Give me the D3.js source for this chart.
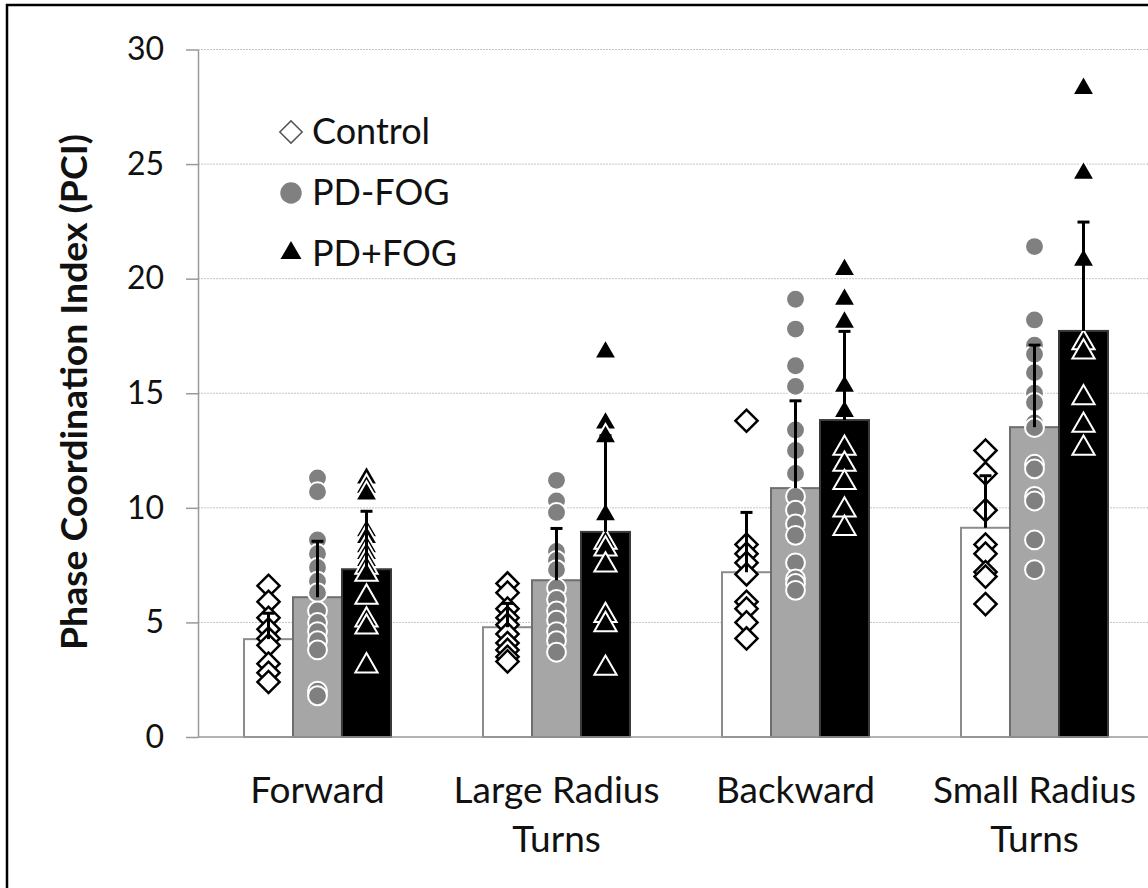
<!DOCTYPE html>
<html>
<head>
<meta charset="utf-8">
<script src="https://cdn.jsdelivr.net/npm/d3@7"></script>
<style>
  body { margin: 0; background: #fff; }
  svg { display: block; font-family: Lato, "Open Sans", sans-serif; }
</style>
</head>
<body>
<div id="chart"></div>
<script>
// data
const categories = ["Forward", "Large Radius Turns", "Backward", "Small Radius Turns"];
const categoryLines = [["Forward"], ["Large Radius", "Turns"], ["Backward"], ["Small Radius", "Turns"]];
const groups = ["Control", "PD-FOG", "PD+FOG"];
const yTicks = [0, 5, 10, 15, 20, 25, 30];

const controlMean = [4.27, 4.79, 7.19, 9.13];
const pdNoFogMean = [6.10, 6.84, 10.86, 13.52];
const pdFogMean = [7.32, 8.95, 13.83, 17.72];

const controlSD = [1.13, 1.04, 2.61, 2.27];
const pdNoFogSD = [2.44, 2.26, 3.81, 3.58];
const pdFogSD = [2.53, 4.20, 3.87, 4.75];

const controlPoints = [
    [6.6, 5.9, 5.2, 4.7, 4.3, 4.0, 3.2, 2.8, 2.4],
    [6.7, 6.3, 5.6, 5.2, 4.9, 4.5, 4.1, 3.8, 3.5, 3.3],
    [13.8, 8.4, 8.0, 7.6, 7.1, 5.9, 5.6, 5.0, 4.3],
    [12.5, 11.5, 9.9, 8.4, 8.0, 7.2, 7.0, 5.8]
];
const pdNoFogPoints = [
    [11.3, 10.7, 8.6, 8.0, 7.4, 6.8, 6.3, 5.5, 5.0, 4.6, 4.2, 3.8, 2.0, 1.8],
    [11.2, 10.3, 9.8, 8.1, 7.7, 7.3, 6.5, 6.0, 5.5, 5.1, 4.6, 4.2, 3.7],
    [19.1, 17.8, 16.2, 15.3, 13.4, 12.5, 11.5, 10.5, 9.9, 9.3, 8.8, 7.6, 6.9, 6.7, 6.4],
    [21.4, 18.2, 17.1, 16.7, 15.9, 15.0, 14.6, 13.7, 13.5, 11.9, 11.7, 10.5, 10.3, 8.6, 7.3]
];
const pdFogPoints = [
    [11.3, 10.9, 10.6, 9.0, 8.7, 8.3, 8.0, 7.7, 7.4, 7.1, 6.1, 5.1, 4.8, 3.1],
    [16.8, 13.7, 13.1, 9.7, 8.5, 8.2, 7.5, 5.3, 4.9, 3.0],
    [20.4, 19.1, 18.1, 15.3, 14.2, 12.6, 11.9, 11.1, 9.9, 9.1],
    [28.3, 24.6, 20.8, 17.2, 16.8, 14.8, 13.6, 12.6]
];

const width = 1148;
const height = 888;
const margin = { top: 49.5, left: 198, bottom: 151 };

const svg = d3.select("#chart").append("svg")
    .attr("width", width)
    .attr("height", height);

const x0 = d3.scaleBand().domain(categories).range([margin.left, margin.left + 4 * 239]);
const bw = x0.bandwidth();
const x1 = d3.scaleBand().domain(groups).range([bw * 0.1925, bw * 0.8075]);
const y = d3.scaleLinear().domain([0, 30]).range([height - margin.bottom, margin.top]);

const series = [
    { key: "Control", mean: controlMean, sd: controlSD, pts: controlPoints, fill: "#ffffff", stroke: "#8c8c8c" },
    { key: "PD-FOG", mean: pdNoFogMean, sd: pdNoFogSD, pts: pdNoFogPoints, fill: "#a6a6a6", stroke: "#6e6e6e" },
    { key: "PD+FOG", mean: pdFogMean, sd: pdFogSD, pts: pdFogPoints, fill: "#000000", stroke: "#3a3a3a" }
];

// gridlines
svg.append("g")
    .selectAll("line")
    .data(yTicks.filter(d => d > 0))
    .enter().append("line")
    .attr("x1", margin.left)
    .attr("x2", width)
    .attr("y1", d => y(d))
    .attr("y2", d => y(d))
    .attr("stroke", "#c4c4c4")
    .attr("stroke-width", 1)
    .attr("stroke-dasharray", "2,1");

// bars
const barData = [];
series.forEach(s => categories.forEach((c, i) => barData.push({ s, c, i })));

svg.append("g")
    .selectAll("rect")
    .data(barData)
    .enter().append("rect")
    .attr("x", d => x0(d.c) + x1(d.s.key))
    .attr("y", d => y(d.s.mean[d.i]))
    .attr("width", x1.bandwidth())
    .attr("height", d => y(0) - y(d.s.mean[d.i]))
    .attr("fill", d => d.s.fill)
    .attr("stroke", d => d.s.stroke)
    .attr("stroke-width", 2);

// axes
const yAxis = svg.append("g")
    .attr("transform", `translate(${margin.left},0)`)
    .call(d3.axisLeft(y).tickValues(yTicks).tickSize(12).tickPadding(22).tickSizeOuter(0));
yAxis.select(".domain").attr("stroke", "#9a9a9a").attr("stroke-width", 1.5);
yAxis.selectAll(".tick line").attr("stroke", "#9a9a9a").attr("stroke-width", 1.5);
yAxis.selectAll(".tick text")
    .attr("font-family", "Lato, sans-serif")
    .attr("font-size", 32)
    .attr("fill", "#111");

svg.append("line")
    .attr("x1", margin.left)
    .attr("x2", width)
    .attr("y1", y(0))
    .attr("y2", y(0))
    .attr("stroke", "#9a9a9a")
    .attr("stroke-width", 1.5);

// individual points
const diamond = d3.symbol().type(d3.symbolSquare).size(245);
const circle = d3.symbol().type(d3.symbolCircle).size(280);
const triangle = d3.symbol().type(d3.symbolTriangle).size(215);

const pointData = [];
series.forEach(s => categories.forEach((c, i) => s.pts[i].forEach(v => pointData.push({ s, c, v }))));

const cx = d => x0(d.c) + x1(d.s.key) + x1.bandwidth() / 2;

svg.append("g")
    .selectAll("path")
    .data(pointData)
    .enter().append("path")
    .attr("transform", d => d.s.key === "Control"
        ? `translate(${cx(d)},${y(d.v)}) rotate(45)`
        : `translate(${cx(d)},${y(d.v)})`)
    .attr("d", d => d.s.key === "Control" ? diamond() : d.s.key === "PD-FOG" ? circle() : triangle())
    .attr("fill", d => d.s.key === "Control" ? "#ffffff" : d.s.key === "PD-FOG" ? "#808080" : "#000000")
    .attr("stroke", d => d.s.key === "Control" ? "#000000" : "#ffffff")
    .attr("stroke-width", d => d.s.key === "Control" ? 2.5 : 2);

// error bars (upper half only)
const err = svg.append("g")
    .selectAll("g")
    .data(barData)
    .enter().append("g");

err.append("line")
    .attr("x1", d => x0(d.c) + x1(d.s.key) + x1.bandwidth() / 2)
    .attr("x2", d => x0(d.c) + x1(d.s.key) + x1.bandwidth() / 2)
    .attr("y1", d => y(d.s.mean[d.i]))
    .attr("y2", d => y(d.s.mean[d.i] + d.s.sd[d.i]))
    .attr("stroke", "#000")
    .attr("stroke-width", 3);

err.append("line")
    .attr("x1", d => x0(d.c) + x1(d.s.key) + x1.bandwidth() / 2 - 6)
    .attr("x2", d => x0(d.c) + x1(d.s.key) + x1.bandwidth() / 2 + 6)
    .attr("y1", d => y(d.s.mean[d.i] + d.s.sd[d.i]))
    .attr("y2", d => y(d.s.mean[d.i] + d.s.sd[d.i]))
    .attr("stroke", "#000")
    .attr("stroke-width", 3);

// category labels
const catLabels = svg.append("g")
    .selectAll("text")
    .data(categories)
    .enter().append("text")
    .attr("x", d => x0(d) + bw / 2)
    .attr("y", 803)
    .attr("text-anchor", "middle")
    .attr("font-size", 37)
    .attr("fill", "#111");

catLabels.selectAll("tspan")
    .data((d, i) => categoryLines[i])
    .enter().append("tspan")
    .attr("x", function() { return d3.select(this.parentNode).attr("x"); })
    .attr("dy", (d, i) => i === 0 ? 0 : 49)
    .text(d => d);

// y axis title
svg.append("text")
    .attr("transform", "translate(87,392) rotate(-90)")
    .attr("text-anchor", "middle")
    .attr("font-size", 37)
    .attr("font-weight", "bold")
    .attr("fill", "#111")
    .attr("textLength", 516)
    .attr("lengthAdjust", "spacingAndGlyphs")
    .text("Phase Coordination Index (PCI)");

// legend
const legend = svg.append("g").attr("transform", "translate(291,132)");
const legendItems = legend.selectAll("g")
    .data(groups)
    .enter().append("g")
    .attr("transform", (d, i) => `translate(0,${i * 61})`);

legendItems.append("path")
    .attr("transform", (d, i) => i === 0 ? "rotate(45)" : i === 2 ? "translate(0,-1)" : "")
    .attr("d", (d, i) => i === 0
        ? d3.symbol().type(d3.symbolSquare).size(250)()
        : i === 1 ? d3.symbol().type(d3.symbolCircle).size(360)()
        : d3.symbol().type(d3.symbolTriangle).size(190)())
    .attr("fill", (d, i) => i === 0 ? "#fff" : i === 1 ? "#808080" : "#000")
    .attr("stroke", (d, i) => i === 0 ? "#555" : "none")
    .attr("stroke-width", 1.5);

legendItems.append("text")
    .attr("x", 21)
    .attr("y", 12)
    .attr("font-size", 36)
    .attr("fill", "#111")
    .text(d => d);

// outer frame
svg.append("rect")
    .attr("x", 7)
    .attr("y", 5)
    .attr("width", 1200)
    .attr("height", 950)
    .attr("fill", "none")
    .attr("stroke", "#000")
    .attr("stroke-width", 2.5);
</script>
</body>
</html>
